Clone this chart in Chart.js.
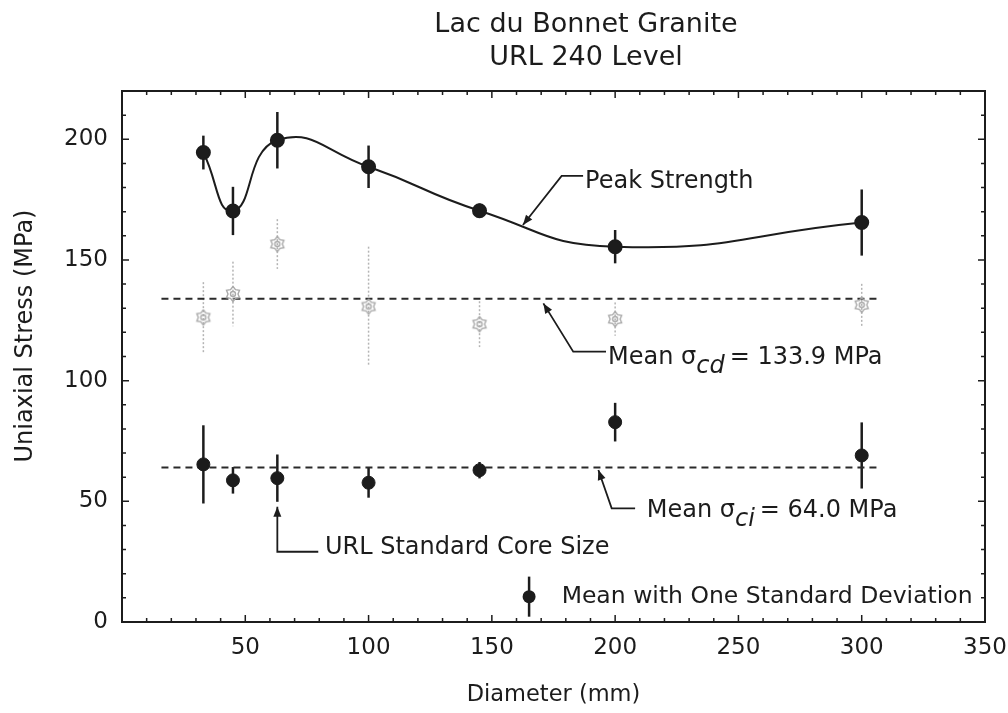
<!DOCTYPE html>
<html>
<head>
<meta charset="utf-8">
<script src="https://cdn.jsdelivr.net/npm/chart.js@4.4.1/dist/chart.umd.min.js"></script>
<style>
  html, body { margin: 0; padding: 0; background: #fff; }
</style>
</head>
<body>
<canvas id="myChart" width="1008" height="713"></canvas>
<script>
const chart1 = document.getElementById('myChart').getContext('2d');

const FONT = '"DejaVu Sans", sans-serif';
const INK = '#1c1c1c';

// core diameters tested (mm)
const diameters = [33, 45, 63, 100, 145, 200, 300];

// peak strength, mean and one standard deviation (MPa)
const peakMean = [194.5, 170.3, 199.6, 188.6, 170.4, 155.5, 165.5];
const peakSd = [7.0, 10.0, 11.7, 8.8, 3.0, 6.9, 13.7];

// crack damage stress sigma_cd
const cdMean = [126.2, 135.9, 156.6, 130.7, 123.4, 125.5, 131.4];
const cdSd = [14.6, 13.4, 10.3, 24.8, 9.5, 6.9, 8.7];

// crack initiation stress sigma_ci
const ciMean = [65.3, 58.7, 59.6, 57.7, 62.9, 82.8, 69.0];
const ciSd = [16.2, 5.5, 9.8, 6.2, 3.4, 8.0, 13.7];

const meanCd = 133.9;
const meanCi = 64.0;
const meanLineSpan = [16, 308];

const xTickLabels = [50, 100, 150, 200, 250, 300, 350];
const yTickLabels = [0, 50, 100, 150, 200];

const toPoints = (ys) => diameters.map((d, i) => ({ x: d, y: ys[i] }));

// callout labels with leader lines (data coordinates)
const callouts = [
  { parts: [['Peak Strength']], tip: [162.6, 164.5], elbow: [178.3, 184.8], end: [187.0, 184.8], at: [187.8, 182.5] },
  { parts: [['Mean σ'], ['cd', true], ['= ' + meanCd.toFixed(1) + ' MPa']], tip: [170.9, 132.0], elbow: [183.0, 112.0], end: [196.3, 112.0], at: [197.1, 109.4] },
  { parts: [['Mean σ'], ['ci', true], ['= ' + meanCi.toFixed(1) + ' MPa']], tip: [193.2, 63.0], elbow: [198.6, 47.1], end: [208.1, 47.1], at: [212.8, 46.0] },
  { parts: [['URL Standard Core Size']], tip: [63.0, 47.8], elbow: [63.0, 29.1], end: [79.6, 29.1], at: [82.3, 30.7] },
];

const legendItem = { text: 'Mean with One Standard Deviation', at: [165.1, 10.5], bar: 8.3, textAt: [178.3, 10.4] };

function drawParts(ctx, parts, x, y, size) {
  let cx = x;
  ctx.textBaseline = 'middle';
  ctx.textAlign = 'left';
  parts.forEach(([txt, sub]) => {
    ctx.font = (sub ? 'italic ' : '') + size + 'px ' + FONT;
    ctx.fillText(txt, cx, y + (sub ? 9 : 0));
    cx += ctx.measureText(txt).width + (sub ? 5 : 0);
  });
}

function arrowHead(ctx, from, to, len, half) {
  const ang = Math.atan2(to[1] - from[1], to[0] - from[0]);
  ctx.beginPath();
  ctx.moveTo(to[0], to[1]);
  ctx.lineTo(to[0] - len * Math.cos(ang) + half * Math.sin(ang), to[1] - len * Math.sin(ang) - half * Math.cos(ang));
  ctx.lineTo(to[0] - len * Math.cos(ang) - half * Math.sin(ang), to[1] - len * Math.sin(ang) + half * Math.cos(ang));
  ctx.closePath();
  ctx.fill();
}

// open grey rosette used for the crack damage points
const rosette = (() => {
  const c = document.createElement('canvas');
  c.width = 18;
  c.height = 18;
  const g = c.getContext('2d');
  g.strokeStyle = '#aaaaaa';
  g.lineWidth = 1.4;
  g.beginPath();
  for (let k = 0; k <= 12; k++) {
    const r = k % 2 === 0 ? 7.5 : 5;
    const a = -Math.PI / 2 + (k * Math.PI) / 6;
    const px = 9 + r * Math.cos(a), py = 9 + r * Math.sin(a);
    if (k === 0) g.moveTo(px, py); else g.lineTo(px, py);
  }
  g.stroke();
  g.beginPath();
  g.arc(9, 9, 2.5, 0, Math.PI * 2);
  g.stroke();
  return c;
})();

// vertical error bars from each dataset's sd array
const errorBars = {
  id: 'errorBars',
  beforeDatasetsDraw(chart) {
    const { ctx, scales: { x, y } } = chart;
    chart.data.datasets.forEach((ds) => {
      if (!ds.sd) return;
      ctx.save();
      ctx.strokeStyle = ds.errColor;
      ctx.lineWidth = ds.errWidth;
      ctx.setLineDash(ds.errDash || []);
      ds.data.forEach((p, i) => {
        const px = x.getPixelForValue(p.x);
        ctx.beginPath();
        ctx.moveTo(px, y.getPixelForValue(p.y + ds.sd[i]));
        ctx.lineTo(px, y.getPixelForValue(p.y - ds.sd[i]));
        ctx.stroke();
      });
      ctx.restore();
    });
  },
};

// box round the plot with inward ticks on all four sides
const frame = {
  id: 'frame',
  afterDatasetsDraw(chart) {
    const { ctx, chartArea: a, scales: { x, y } } = chart;
    ctx.save();
    ctx.strokeStyle = INK;
    ctx.lineWidth = 2;
    ctx.strokeRect(a.left, a.top, a.right - a.left, a.bottom - a.top);
    ctx.lineWidth = 1.5;
    for (let v = 0; v <= 350; v += 10) {
      const px = x.getPixelForValue(v);
      const len = v % 50 === 0 ? 7 : 4;
      ctx.beginPath();
      ctx.moveTo(px, a.bottom); ctx.lineTo(px, a.bottom - len);
      ctx.moveTo(px, a.top); ctx.lineTo(px, a.top + len);
      ctx.stroke();
    }
    for (let v = 0; v <= 220; v += 10) {
      const py = y.getPixelForValue(v);
      const len = v % 50 === 0 ? 7 : 4;
      ctx.beginPath();
      ctx.moveTo(a.left, py); ctx.lineTo(a.left + len, py);
      ctx.moveTo(a.right, py); ctx.lineTo(a.right - len, py);
      ctx.stroke();
    }
    ctx.restore();
  },
};

// titles, callouts and the in-plot legend
const labels = {
  id: 'labels',
  afterDraw(chart) {
    const { ctx, scales: { x, y } } = chart;
    const P = (pt) => [x.getPixelForValue(pt[0]), y.getPixelForValue(pt[1])];
    ctx.save();
    ctx.fillStyle = INK;
    ctx.strokeStyle = INK;

    ctx.font = '27px ' + FONT;
    ctx.textAlign = 'center';
    ctx.textBaseline = 'middle';
    ctx.fillText('Lac du Bonnet Granite', 586, 25);
    ctx.fillText('URL 240 Level', 586, 58);

    ctx.save();
    ctx.translate(26, 336);
    ctx.rotate(-Math.PI / 2);
    ctx.font = '24px ' + FONT;
    ctx.fillText('Uniaxial Stress (MPa)', 0, 0);
    ctx.restore();

    ctx.lineWidth = 1.8;
    callouts.forEach((c) => {
      const tip = P(c.tip), elbow = P(c.elbow), end = P(c.end);
      ctx.beginPath();
      ctx.moveTo(end[0], end[1]);
      ctx.lineTo(elbow[0], elbow[1]);
      ctx.lineTo(tip[0], tip[1]);
      ctx.stroke();
      arrowHead(ctx, elbow, tip, 10, 4);
      const at = P(c.at);
      drawParts(ctx, c.parts, at[0], at[1], 24);
    });

    const m = P(legendItem.at);
    const bt = y.getPixelForValue(legendItem.at[1] + legendItem.bar);
    const bb = y.getPixelForValue(legendItem.at[1] - legendItem.bar);
    ctx.lineWidth = 2.5;
    ctx.beginPath();
    ctx.moveTo(m[0], bt); ctx.lineTo(m[0], bb);
    ctx.stroke();
    ctx.beginPath();
    ctx.arc(m[0], m[1], 6.5, 0, Math.PI * 2);
    ctx.fill();
    const t = P(legendItem.textAt);
    drawParts(ctx, [[legendItem.text]], t[0], t[1], 23.5);
    ctx.restore();
  },
};

const tickFont = { family: FONT, size: 23 };

const myChart = new Chart(chart1, {
  type: 'scatter',
  data: {
    datasets: [
      {
        type: 'line',
        label: 'Peak Strength',
        data: toPoints(peakMean),
        sd: peakSd,
        errColor: INK,
        errWidth: 2.5,
        borderColor: INK,
        borderWidth: 2,
        tension: 0.5,
        fill: false,
        pointRadius: 6.5,
        pointBackgroundColor: INK,
        pointBorderColor: INK,
      },
      {
        label: 'Crack damage',
        data: toPoints(cdMean),
        sd: cdSd,
        errColor: '#b4b4b4',
        errWidth: 1.5,
        errDash: [2, 2],
        pointStyle: rosette,
        pointRadius: 8,
      },
      {
        label: 'Crack initiation',
        data: toPoints(ciMean),
        sd: ciSd,
        errColor: INK,
        errWidth: 2.5,
        pointRadius: 6.5,
        backgroundColor: INK,
        borderColor: INK,
      },
      {
        type: 'line',
        label: 'Mean cd',
        data: meanLineSpan.map((v) => ({ x: v, y: meanCd })),
        borderColor: '#2a2a2a',
        borderWidth: 2,
        borderDash: [7, 5],
        pointRadius: 0,
      },
      {
        type: 'line',
        label: 'Mean ci',
        data: meanLineSpan.map((v) => ({ x: v, y: meanCi })),
        borderColor: '#2a2a2a',
        borderWidth: 2,
        borderDash: [7, 5],
        pointRadius: 0,
      },
    ],
  },
  options: {
    responsive: false,
    animation: false,
    layout: { padding: { top: 91, right: 23, bottom: 0, left: 0 } },
    scales: {
      x: {
        type: 'linear',
        min: 0,
        max: 350,
        grid: { display: false, drawTicks: false },
        border: { display: false },
        ticks: {
          stepSize: 50,
          padding: 12,
          maxRotation: 0,
          autoSkip: false,
          color: INK,
          font: tickFont,
          callback: (v) => (xTickLabels.includes(v) ? String(v) : ''),
        },
        title: {
          display: true,
          text: 'Diameter (mm)',
          color: INK,
          font: { family: FONT, size: 22.5 },
          padding: { top: 0, bottom: 4.5 },
        },
        afterFit: (s) => {
          s.height = 91;
          // let the layout padding decide the plot edges, not the end labels
          s.paddingLeft = 0;
          s.paddingRight = 0;
        },
      },
      y: {
        min: 0,
        max: 220,
        grid: { display: false, drawTicks: false },
        border: { display: false },
        ticks: {
          stepSize: 50,
          includeBounds: false,
          padding: 14,
          color: INK,
          font: tickFont,
          callback: (v) => (yTickLabels.includes(v) ? String(v) : ''),
        },
        afterFit: (s) => {
          s.width = 122;
          s.paddingTop = 0;
          s.paddingBottom = 0;
        },
      },
    },
    plugins: {
      legend: { display: false },
      tooltip: { enabled: false },
    },
  },
  plugins: [errorBars, frame, labels],
});
</script>
</body>
</html>
